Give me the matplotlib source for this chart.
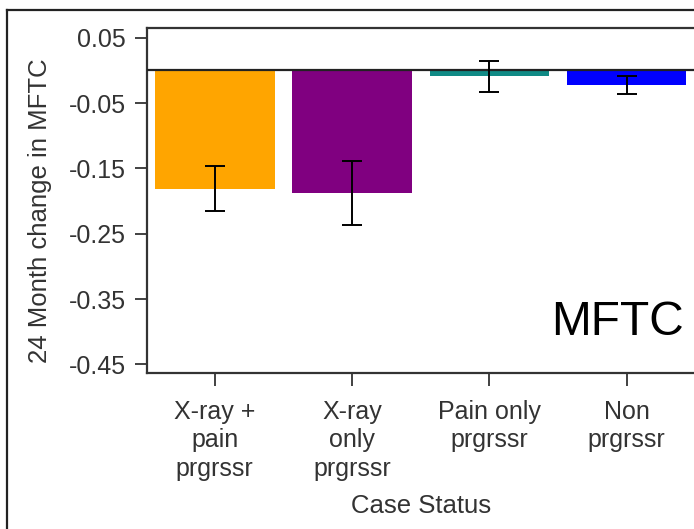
import matplotlib
matplotlib.use("Agg")
import matplotlib.pyplot as plt
from matplotlib.lines import Line2D

plt.rcParams['font.family'] = ['Liberation Sans', 'DejaVu Sans']

# 24 month change in MFTC by case status (mean +/- error)
groups = ["X-ray +\npain\nprgrssr", "X-ray\nonly\nprgrssr", "Pain only\nprgrssr", "Non\nprgrssr"]
mean_change = [-0.181, -0.187, -0.009, -0.022]
err_change = [0.035, 0.049, 0.024, 0.014]
bar_colors = ["#FFA500", "#800080", "#108A85", "#0000FF"]
yticks = [0.05, -0.05, -0.15, -0.25, -0.35, -0.45]

W, H = 694, 529
fig = plt.figure(figsize=(W / 100, H / 100), dpi=100)

# outer panel frame (left and top edges only show)
fig.add_artist(Line2D([7 / W, 7 / W], [0, 1 - 10 / H], color="#222222", lw=1.6))
fig.add_artist(Line2D([7 / W, 1], [1 - 10 / H, 1 - 10 / H], color="#222222", lw=1.6))

left, right, top, bottom = 147, 696, 28, 373.3
ax = fig.add_axes([left / W, 1 - bottom / H, (right - left) / W, (bottom - top) / H])

x = range(len(groups))
ax.bar(x, mean_change, width=0.87, color=bar_colors, edgecolor="none", zorder=2)
ax.errorbar(x, mean_change, yerr=err_change, fmt="none", ecolor="black",
            elinewidth=1.4, capsize=7, capthick=1.4, zorder=4)
ax.axhline(0, color="#222222", lw=1.6, zorder=3)

ax.set_xlim(-0.494, 3.506)
ax.set_ylim(-0.4637, 0.0649)
ax.set_yticks(yticks)
ax.set_yticklabels([f"{v:.2f}" for v in yticks])
ax.set_xticks(list(x))
ax.set_xticklabels(groups, linespacing=1.25)

for s in ax.spines.values():
    s.set_color("#333333")
    s.set_linewidth(1.6)
ax.tick_params(axis="both", length=9, width=1.3, color="#333333",
               labelsize=18, labelcolor="#333333")
ax.tick_params(axis="y", pad=6)
ax.tick_params(axis="x", pad=10)

ax.set_xlabel("Case Status", fontsize=18.5, color="#333333", labelpad=9)
ax.set_ylabel("24 Month change in MFTC", fontsize=18.5, color="#333333", labelpad=12)
ax.yaxis.label.set_y(0.47)

ax.text(0.978, 0.146, "MFTC", transform=ax.transAxes, fontsize=34.5,
        ha="right", va="center", color="black")

fig.savefig("out.png", dpi=100)
